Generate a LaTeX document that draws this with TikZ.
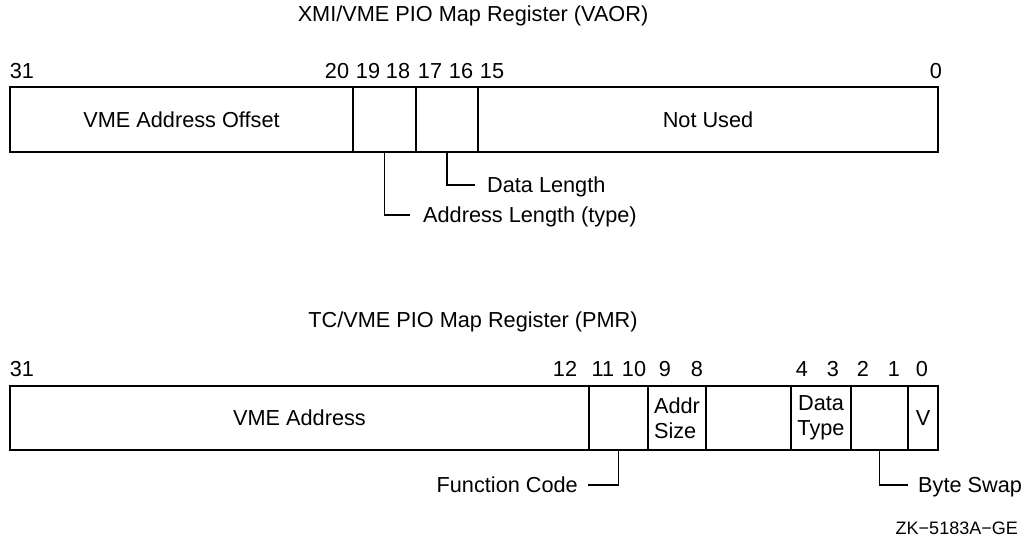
\documentclass[tikz,border=0pt]{standalone}
\usepackage{fontspec}
\setmainfont{Liberation Sans}
\usetikzlibrary{positioning}

\begin{document}
\begin{tikzpicture}[x=1pt, y=-1pt,
    font=\fontsize{21.7}{24.5}\selectfont,
    field/.style={draw, line width=1.8pt, anchor=north west, inner sep=0pt, outer sep=0pt, align=center},
    bitno/.style={inner sep=0pt, text height=15.5pt, text depth=0pt},
    callout/.style={anchor=west, inner sep=0pt, text height=15.5pt, text depth=0pt},
    leader/.style={line width=1.5pt}]
  \useasboundingbox (0,0) rectangle (1025,540);

  % XMI/VME register (VAOR)
  \node (vaortitle) at (473,16) {XMI/VME PIO Map Register (VAOR)};
  \foreach \x/\n in {22/31, 337/20, 368/19, 398/18, 430/17, 461/16, 492/15, 936/0}
    \node[bitno] at (\x,71) {\n};
  \node[field, minimum width=343pt, minimum height=65pt] (vaoff) at (10,87) {VME Address Offset};
  \node[field, minimum width=63pt, minimum height=65pt] (vaal) at (353,87) {};
  \node[field, minimum width=62pt, minimum height=65pt] (vadl) at (416,87) {};
  \node[field, minimum width=460pt, minimum height=65pt] (vanu) at (478,87) {Not Used};

  \node[callout] (dlen) at (487,185) {Data Length};
  \node[callout] (alen) at (423,215) {Address Length (type)};
  \draw[leader] (vadl.south) |- ([xshift=-12pt]dlen.west);
  \draw[leader] (vaal.south) |- ([xshift=-13pt]alen.west);

  % TC/VME register (PMR)
  \node (pmrtitle) at (473,322) {TC/VME PIO Map Register (PMR)};
  \foreach \x/\n in {22/31, 565/12, 603/11, 634/10, 665/9, 697/8, 802/4, 833/3, 863/2, 894/1, 922/0}
    \node[bitno] at (\x,369) {\n};
  \node[field, minimum width=579pt, minimum height=64pt] (pmva) at (10,386) {VME Address};
  \node[field, minimum width=59pt, minimum height=64pt] (pmfc) at (589,386) {};
  \node[field, minimum width=58pt, minimum height=64pt, align=left] (pmas) at (648,386) {Addr\\Size};
  \node[field, minimum width=85pt, minimum height=64pt] (pmrs) at (706,386) {};
  \node[field, minimum width=60pt, minimum height=64pt] (pmdt) at (791,386) {Data\\Type};
  \node[field, minimum width=57pt, minimum height=64pt] (pmbs) at (851,386) {};
  \node[field, minimum width=30pt, minimum height=64pt] (pmv) at (908,386) {V};

  \node[callout, anchor=east] (fcode) at (578,485) {Function Code};
  \node[callout] (bswap) at (918,485) {Byte Swap};
  \draw[leader] (pmfc.south) |- ([xshift=10pt]fcode.east);
  \draw[leader] (pmbs.south) |- ([xshift=-10pt]bswap.west);

  \node[anchor=east, inner sep=0pt, font=\fontsize{18}{20}\selectfont] (zkno) at (1018,528) {ZK−5183A−GE};
\end{tikzpicture}
\end{document}
